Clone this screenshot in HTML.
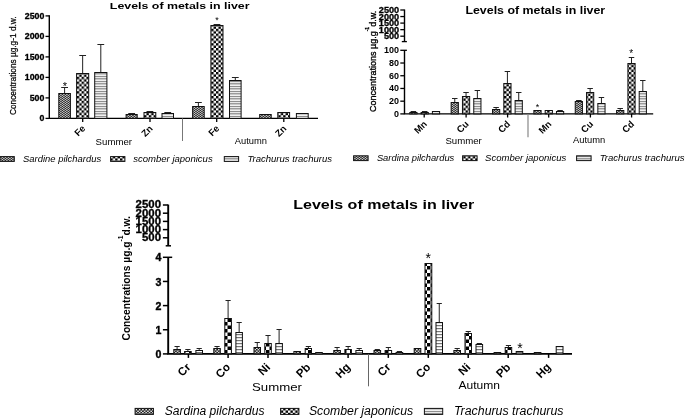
<!DOCTYPE html>
<html><head><meta charset="utf-8"><title>Levels of metals in liver</title>
<style>
html,body{margin:0;padding:0;background:#fff;}
body{width:685px;height:419px;overflow:hidden;font-family:"Liberation Sans",sans-serif;}
svg{display:block;position:absolute;left:0;top:0;will-change:transform;filter:grayscale(1);}
text{font-family:"Liberation Sans",sans-serif;fill:#000;}
</style></head><body>
<svg width="685" height="419" viewBox="0 0 685 419">
<defs>
<pattern id="pA" x="0.25" y="0" width="3" height="2" patternUnits="userSpaceOnUse"><rect width="3" height="2" fill="#151515"/><ellipse cx="0.75" cy="0.5" rx="0.8" ry="0.5" fill="#fff"/><ellipse cx="2.25" cy="1.5" rx="0.8" ry="0.5" fill="#fff"/></pattern>
<pattern id="pA3" x="0.2" y="0.06" width="3.3" height="2.86" patternUnits="userSpaceOnUse"><rect width="3.3" height="2.86" fill="#111"/><ellipse cx="0.825" cy="0.715" rx="0.95" ry="0.62" fill="#fff"/><ellipse cx="2.475" cy="2.145" rx="0.95" ry="0.62" fill="#fff"/></pattern>
<pattern id="pB3" width="5.8" height="5.8" patternUnits="userSpaceOnUse"><rect width="5.8" height="5.8" fill="#fff"/><rect width="2.9" height="2.9" fill="#000"/><rect x="2.9" y="2.9" width="2.9" height="2.9" fill="#000"/></pattern>
<pattern id="pB" width="4.8" height="4.8" patternUnits="userSpaceOnUse"><rect width="4.8" height="4.8" fill="#fff"/><rect width="2.4" height="2.4" fill="#000"/><rect x="2.4" y="2.4" width="2.4" height="2.4" fill="#000"/></pattern>
<pattern id="pC" width="3" height="2.5" patternUnits="userSpaceOnUse"><rect width="3" height="2.5" fill="#fff"/><rect y="0.9" width="3" height="1" fill="#666"/></pattern>
<pattern id="pB2" width="7" height="7" patternUnits="userSpaceOnUse"><rect width="7" height="7" fill="#fff"/><rect width="3.5" height="3.5" fill="#000"/><rect x="3.5" y="3.5" width="3.5" height="3.5" fill="#000"/></pattern>
<pattern id="pC2" width="3" height="3" patternUnits="userSpaceOnUse"><rect width="3" height="3" fill="#fff"/><rect y="1" width="3" height="1.2" fill="#777"/></pattern>
</defs>
<rect width="685" height="419" fill="#fff"/>

<g id="p1">
<text x="179.70" y="8.90" font-size="9.6" font-weight="bold" font-style="normal" text-anchor="middle" textLength="139.70" lengthAdjust="spacingAndGlyphs" >Levels of metals in liver</text>
<text x="16.20" y="65.70" font-size="9.6" font-weight="normal" font-style="normal" text-anchor="middle" textLength="98.60" lengthAdjust="spacingAndGlyphs" transform="rotate(-90 16.20 65.70)" stroke="#000" stroke-width="0.25">Concentrations µg.g-1 d.w.</text>
<path d="M49.3 15.2V118.4H318.0" stroke="#000" stroke-width="1.4" fill="none"/>
<path d="M45.5 118.40H49.3" stroke="#000" stroke-width="1.3"/>
<text x="44.40" y="121.40" font-size="8.5" font-weight="bold" font-style="normal" text-anchor="end" textLength="4.90" lengthAdjust="spacingAndGlyphs" stroke="#000" stroke-width="0.3">0</text>
<path d="M45.5 97.90H49.3" stroke="#000" stroke-width="1.3"/>
<text x="44.40" y="100.90" font-size="8.5" font-weight="bold" font-style="normal" text-anchor="end" textLength="14.70" lengthAdjust="spacingAndGlyphs" stroke="#000" stroke-width="0.3">500</text>
<path d="M45.5 77.40H49.3" stroke="#000" stroke-width="1.3"/>
<text x="44.40" y="80.40" font-size="8.5" font-weight="bold" font-style="normal" text-anchor="end" textLength="19.60" lengthAdjust="spacingAndGlyphs" stroke="#000" stroke-width="0.3">1000</text>
<path d="M45.5 56.90H49.3" stroke="#000" stroke-width="1.3"/>
<text x="44.40" y="59.90" font-size="8.5" font-weight="bold" font-style="normal" text-anchor="end" textLength="19.60" lengthAdjust="spacingAndGlyphs" stroke="#000" stroke-width="0.3">1500</text>
<path d="M45.5 36.40H49.3" stroke="#000" stroke-width="1.3"/>
<text x="44.40" y="39.40" font-size="8.5" font-weight="bold" font-style="normal" text-anchor="end" textLength="19.60" lengthAdjust="spacingAndGlyphs" stroke="#000" stroke-width="0.3">2000</text>
<path d="M45.5 15.90H49.3" stroke="#000" stroke-width="1.3"/>
<text x="44.40" y="18.90" font-size="8.5" font-weight="bold" font-style="normal" text-anchor="end" textLength="19.60" lengthAdjust="spacingAndGlyphs" stroke="#000" stroke-width="0.3">2500</text>
<path d="M64.60 93.50V87.50M61.20 87.50H68.00" stroke="#222" stroke-width="1.0" fill="none"/><rect x="58.80" y="93.50" width="11.60" height="24.90" fill="url(#pA)" stroke="#111" stroke-width="1.0"/>
<path d="M82.65 73.50V55.50M79.25 55.50H86.05" stroke="#222" stroke-width="1.0" fill="none"/><rect x="76.60" y="73.50" width="12.10" height="44.90" fill="url(#pB)" stroke="#111" stroke-width="1.0"/>
<path d="M100.80 72.50V44.50M97.40 44.50H104.20" stroke="#222" stroke-width="1.0" fill="none"/><rect x="94.70" y="72.50" width="12.20" height="45.90" fill="url(#pC)" stroke="#111" stroke-width="1.0"/>
<path d="M131.65 114.50V113.50M128.25 113.50H135.05" stroke="#222" stroke-width="1.0" fill="none"/><rect x="126.10" y="114.50" width="11.10" height="3.90" fill="url(#pA)" stroke="#111" stroke-width="1.0"/>
<path d="M149.90 112.50V111.50M146.50 111.50H153.30" stroke="#222" stroke-width="1.0" fill="none"/><rect x="144.00" y="112.50" width="11.80" height="5.90" fill="url(#pB)" stroke="#111" stroke-width="1.0"/>
<path d="M167.75 113.50V112.50M164.35 112.50H171.15" stroke="#222" stroke-width="1.0" fill="none"/><rect x="162.00" y="113.50" width="11.50" height="4.90" fill="url(#pC)" stroke="#111" stroke-width="1.0"/>
<path d="M198.40 106.50V102.50M195.00 102.50H201.80" stroke="#222" stroke-width="1.0" fill="none"/><rect x="192.60" y="106.50" width="11.60" height="11.90" fill="url(#pA)" stroke="#111" stroke-width="1.0"/>
<path d="M216.95 25.50V24.50M213.55 24.50H220.35" stroke="#222" stroke-width="1.0" fill="none"/><rect x="210.90" y="25.50" width="12.10" height="92.90" fill="url(#pB)" stroke="#111" stroke-width="1.0"/>
<path d="M235.30 80.50V77.50M231.90 77.50H238.70" stroke="#222" stroke-width="1.0" fill="none"/><rect x="229.50" y="80.50" width="11.60" height="37.90" fill="url(#pC)" stroke="#111" stroke-width="1.0"/>
<rect x="259.70" y="114.50" width="11.50" height="3.90" fill="url(#pA)" stroke="#111" stroke-width="1.0"/>
<rect x="277.80" y="112.50" width="11.80" height="5.90" fill="url(#pB)" stroke="#111" stroke-width="1.0"/>
<rect x="296.40" y="113.50" width="11.80" height="4.90" fill="url(#pC)" stroke="#111" stroke-width="1.0"/>
<path d="M82.7 118.4V122.0" stroke="#000" stroke-width="1.3"/>
<text x="86.00" y="129.10" font-size="9.4" font-weight="bold" font-style="normal" text-anchor="end" transform="rotate(-45 86.00 129.10)" >Fe</text>
<path d="M150 118.4V122.0" stroke="#000" stroke-width="1.3"/>
<text x="153.30" y="129.10" font-size="9.4" font-weight="bold" font-style="normal" text-anchor="end" transform="rotate(-45 153.30 129.10)" >Zn</text>
<path d="M216.7 118.4V122.0" stroke="#000" stroke-width="1.3"/>
<text x="220.00" y="129.10" font-size="9.4" font-weight="bold" font-style="normal" text-anchor="end" transform="rotate(-45 220.00 129.10)" >Fe</text>
<path d="M283.8 118.4V122.0" stroke="#000" stroke-width="1.3"/>
<text x="287.10" y="129.10" font-size="9.4" font-weight="bold" font-style="normal" text-anchor="end" transform="rotate(-45 287.10 129.10)" >Zn</text>
<path d="M182.5 118.4V141" stroke="#777" stroke-width="1"/>
<text x="113.80" y="145.00" font-size="9.4" font-weight="normal" font-style="normal" text-anchor="middle" textLength="36.40" lengthAdjust="spacingAndGlyphs" >Summer</text>
<text x="250.90" y="143.80" font-size="9.4" font-weight="normal" font-style="normal" text-anchor="middle" textLength="32.20" lengthAdjust="spacingAndGlyphs" >Autumn</text>
<text x="64.80" y="89.90" font-size="11" font-weight="normal" font-style="normal" text-anchor="middle" >*</text>
<text x="217.00" y="23.00" font-size="9" font-weight="normal" font-style="normal" text-anchor="middle" >*</text>
<rect x="0" y="156.6" width="14.3" height="4.8" fill="url(#pA)" stroke="#111" stroke-width="1"/>
<rect x="110.6" y="156.6" width="14.3" height="4.8" fill="url(#pB)" stroke="#111" stroke-width="1"/>
<rect x="224.3" y="156.6" width="14.3" height="4.8" fill="url(#pC)" stroke="#111" stroke-width="1"/>
<text x="23.10" y="161.70" font-size="9.5" font-weight="normal" font-style="italic" text-anchor="start" textLength="78.00" lengthAdjust="spacingAndGlyphs" >Sardine pilchardus</text>
<text x="133.20" y="161.70" font-size="9.5" font-weight="normal" font-style="italic" text-anchor="start" textLength="79.50" lengthAdjust="spacingAndGlyphs" >scomber japonicus</text>
<text x="247.40" y="161.70" font-size="9.5" font-weight="normal" font-style="italic" text-anchor="start" textLength="84.60" lengthAdjust="spacingAndGlyphs" >Trachurus trachurus</text>
</g>
<g id="p2">
<text x="535.30" y="13.60" font-size="10.3" font-weight="bold" font-style="normal" text-anchor="middle" textLength="139.80" lengthAdjust="spacingAndGlyphs" >Levels of metals in liver</text>
<text x="376.3" y="61.4" font-size="9.6" text-anchor="middle" transform="rotate(-90 376.3 61.4)" textLength="101.3" lengthAdjust="spacingAndGlyphs" stroke="#000" stroke-width="0.35">Concentrations µg.g<tspan dy="-7" font-size="5.5">-1</tspan><tspan dy="7">d.w.</tspan></text>
<path d="M404.5 9.5V42" stroke="#000" stroke-width="1.4" fill="none"/>
<path d="M401.8 41.6H406.9" stroke="#000" stroke-width="1.3" fill="none"/>
<path d="M400.3 10.00H404.5" stroke="#000" stroke-width="1.3"/>
<text x="399.20" y="13.00" font-size="8.5" font-weight="bold" font-style="normal" text-anchor="end" textLength="20.40" lengthAdjust="spacingAndGlyphs" stroke="#000" stroke-width="0.3">2500</text>
<path d="M400.3 16.55H404.5" stroke="#000" stroke-width="1.3"/>
<text x="399.20" y="19.55" font-size="8.5" font-weight="bold" font-style="normal" text-anchor="end" textLength="20.40" lengthAdjust="spacingAndGlyphs" stroke="#000" stroke-width="0.3">2000</text>
<path d="M400.3 23.10H404.5" stroke="#000" stroke-width="1.3"/>
<text x="399.20" y="26.10" font-size="8.5" font-weight="bold" font-style="normal" text-anchor="end" textLength="20.40" lengthAdjust="spacingAndGlyphs" stroke="#000" stroke-width="0.3">1500</text>
<path d="M400.3 29.65H404.5" stroke="#000" stroke-width="1.3"/>
<text x="399.20" y="32.65" font-size="8.5" font-weight="bold" font-style="normal" text-anchor="end" textLength="20.40" lengthAdjust="spacingAndGlyphs" stroke="#000" stroke-width="0.3">1000</text>
<path d="M400.3 36.20H404.5" stroke="#000" stroke-width="1.3"/>
<text x="399.20" y="39.20" font-size="8.5" font-weight="bold" font-style="normal" text-anchor="end" textLength="15.30" lengthAdjust="spacingAndGlyphs" stroke="#000" stroke-width="0.3">500</text>
<path d="M404.5 50.3V113.9H653.2" stroke="#000" stroke-width="1.4" fill="none"/>
<path d="M400.3 113.90H404.5" stroke="#000" stroke-width="1.3"/>
<text x="399.10" y="116.90" font-size="8.5" font-weight="bold" font-style="normal" text-anchor="end" textLength="5.00" lengthAdjust="spacingAndGlyphs" >0</text>
<path d="M400.3 101.18H404.5" stroke="#000" stroke-width="1.3"/>
<text x="399.10" y="104.18" font-size="8.5" font-weight="bold" font-style="normal" text-anchor="end" textLength="10.00" lengthAdjust="spacingAndGlyphs" >20</text>
<path d="M400.3 88.46H404.5" stroke="#000" stroke-width="1.3"/>
<text x="399.10" y="91.46" font-size="8.5" font-weight="bold" font-style="normal" text-anchor="end" textLength="10.00" lengthAdjust="spacingAndGlyphs" >40</text>
<path d="M400.3 75.74H404.5" stroke="#000" stroke-width="1.3"/>
<text x="399.10" y="78.74" font-size="8.5" font-weight="bold" font-style="normal" text-anchor="end" textLength="10.00" lengthAdjust="spacingAndGlyphs" >60</text>
<path d="M400.3 63.02H404.5" stroke="#000" stroke-width="1.3"/>
<text x="399.10" y="66.02" font-size="8.5" font-weight="bold" font-style="normal" text-anchor="end" textLength="10.00" lengthAdjust="spacingAndGlyphs" >80</text>
<path d="M400.3 50.30H406.9" stroke="#000" stroke-width="1.3"/>
<text x="399.10" y="53.30" font-size="8.5" font-weight="bold" font-style="normal" text-anchor="end" textLength="15.00" lengthAdjust="spacingAndGlyphs" >100</text>
<path d="M413.40 112.50V111.50M410.65 111.50H416.15" stroke="#222" stroke-width="1.0" fill="none"/><rect x="409.80" y="112.50" width="7.20" height="1.40" fill="url(#pA)" stroke="#111" stroke-width="1.0"/>
<path d="M424.70 112.50V111.50M421.95 111.50H427.45" stroke="#222" stroke-width="1.0" fill="none"/><rect x="421.10" y="112.50" width="7.20" height="1.40" fill="url(#pB)" stroke="#111" stroke-width="1.0"/>
<rect x="432.40" y="111.50" width="7.20" height="2.40" fill="url(#pC)" stroke="#111" stroke-width="1.0"/>
<path d="M454.76 102.50V98.50M452.01 98.50H457.51" stroke="#222" stroke-width="1.0" fill="none"/><rect x="451.16" y="102.50" width="7.20" height="11.40" fill="url(#pA)" stroke="#111" stroke-width="1.0"/>
<path d="M466.06 96.50V92.50M463.31 92.50H468.81" stroke="#222" stroke-width="1.0" fill="none"/><rect x="462.46" y="96.50" width="7.20" height="17.40" fill="url(#pB)" stroke="#111" stroke-width="1.0"/>
<path d="M477.36 98.50V90.50M474.61 90.50H480.11" stroke="#222" stroke-width="1.0" fill="none"/><rect x="473.76" y="98.50" width="7.20" height="15.40" fill="url(#pC)" stroke="#111" stroke-width="1.0"/>
<path d="M496.12 109.50V107.50M493.37 107.50H498.87" stroke="#222" stroke-width="1.0" fill="none"/><rect x="492.52" y="109.50" width="7.20" height="4.40" fill="url(#pA)" stroke="#111" stroke-width="1.0"/>
<path d="M507.42 83.50V71.50M504.67 71.50H510.17" stroke="#222" stroke-width="1.0" fill="none"/><rect x="503.82" y="83.50" width="7.20" height="30.40" fill="url(#pB)" stroke="#111" stroke-width="1.0"/>
<path d="M518.72 100.50V92.50M515.97 92.50H521.47" stroke="#222" stroke-width="1.0" fill="none"/><rect x="515.12" y="100.50" width="7.20" height="13.40" fill="url(#pC)" stroke="#111" stroke-width="1.0"/>
<rect x="533.88" y="110.50" width="7.20" height="3.40" fill="url(#pA)" stroke="#111" stroke-width="1.0"/>
<rect x="545.18" y="110.50" width="7.20" height="3.40" fill="url(#pB)" stroke="#111" stroke-width="1.0"/>
<path d="M560.08 111.50V110.50M557.33 110.50H562.83" stroke="#222" stroke-width="1.0" fill="none"/><rect x="556.48" y="111.50" width="7.20" height="2.40" fill="url(#pC)" stroke="#111" stroke-width="1.0"/>
<path d="M578.84 101.50V100.50M576.09 100.50H581.59" stroke="#222" stroke-width="1.0" fill="none"/><rect x="575.24" y="101.50" width="7.20" height="12.40" fill="url(#pA)" stroke="#111" stroke-width="1.0"/>
<path d="M590.14 92.50V88.50M587.39 88.50H592.89" stroke="#222" stroke-width="1.0" fill="none"/><rect x="586.54" y="92.50" width="7.20" height="21.40" fill="url(#pB)" stroke="#111" stroke-width="1.0"/>
<path d="M601.44 103.50V97.50M598.69 97.50H604.19" stroke="#222" stroke-width="1.0" fill="none"/><rect x="597.84" y="103.50" width="7.20" height="10.40" fill="url(#pC)" stroke="#111" stroke-width="1.0"/>
<path d="M620.20 110.50V108.50M617.45 108.50H622.95" stroke="#222" stroke-width="1.0" fill="none"/><rect x="616.60" y="110.50" width="7.20" height="3.40" fill="url(#pA)" stroke="#111" stroke-width="1.0"/>
<path d="M631.50 63.50V57.50M628.75 57.50H634.25" stroke="#222" stroke-width="1.0" fill="none"/><rect x="627.90" y="63.50" width="7.20" height="50.40" fill="url(#pB)" stroke="#111" stroke-width="1.0"/>
<path d="M642.80 91.50V80.50M640.05 80.50H645.55" stroke="#222" stroke-width="1.0" fill="none"/><rect x="639.20" y="91.50" width="7.20" height="22.40" fill="url(#pC)" stroke="#111" stroke-width="1.0"/>
<path d="M424.2 113.9V117.5" stroke="#000" stroke-width="1.3"/>
<text x="427.50" y="124.60" font-size="9.4" font-weight="bold" font-style="normal" text-anchor="end" transform="rotate(-45 427.50 124.60)" >Mn</text>
<path d="M466.1 113.9V117.5" stroke="#000" stroke-width="1.3"/>
<text x="469.40" y="124.60" font-size="9.4" font-weight="bold" font-style="normal" text-anchor="end" transform="rotate(-45 469.40 124.60)" >Cu</text>
<path d="M507.6 113.9V117.5" stroke="#000" stroke-width="1.3"/>
<text x="510.90" y="124.60" font-size="9.4" font-weight="bold" font-style="normal" text-anchor="end" transform="rotate(-45 510.90 124.60)" >Cd</text>
<path d="M548.7 113.9V117.5" stroke="#000" stroke-width="1.3"/>
<text x="552.00" y="124.60" font-size="9.4" font-weight="bold" font-style="normal" text-anchor="end" transform="rotate(-45 552.00 124.60)" >Mn</text>
<path d="M590.4 113.9V117.5" stroke="#000" stroke-width="1.3"/>
<text x="593.70" y="124.60" font-size="9.4" font-weight="bold" font-style="normal" text-anchor="end" transform="rotate(-45 593.70 124.60)" >Cu</text>
<path d="M631.6 113.9V117.5" stroke="#000" stroke-width="1.3"/>
<text x="634.90" y="124.60" font-size="9.4" font-weight="bold" font-style="normal" text-anchor="end" transform="rotate(-45 634.90 124.60)" >Cd</text>
<path d="M528 113.9V137.3" stroke="#888" stroke-width="1.2"/>
<text x="463.60" y="144.30" font-size="9.4" font-weight="normal" font-style="normal" text-anchor="middle" textLength="36.40" lengthAdjust="spacingAndGlyphs" >Summer</text>
<text x="589.10" y="143.20" font-size="9.4" font-weight="normal" font-style="normal" text-anchor="middle" textLength="32.20" lengthAdjust="spacingAndGlyphs" >Autumn</text>
<text x="537.40" y="110.20" font-size="9" font-weight="normal" font-style="normal" text-anchor="middle" >*</text>
<text x="631.10" y="56.50" font-size="10" font-weight="normal" font-style="normal" text-anchor="middle" >*</text>
<rect x="353.6" y="155.8" width="14.5" height="4.8" fill="url(#pA)" stroke="#111" stroke-width="1"/>
<rect x="462.6" y="155.8" width="14.5" height="4.8" fill="url(#pB)" stroke="#111" stroke-width="1"/>
<rect x="576.6" y="155.8" width="14.5" height="4.8" fill="url(#pC)" stroke="#111" stroke-width="1"/>
<text x="376.90" y="161.00" font-size="9.5" font-weight="normal" font-style="italic" text-anchor="start" textLength="77.40" lengthAdjust="spacingAndGlyphs" >Sardina pilchardus</text>
<text x="485.00" y="161.00" font-size="9.5" font-weight="normal" font-style="italic" text-anchor="start" textLength="81.30" lengthAdjust="spacingAndGlyphs" >Scomber japonicus</text>
<text x="599.70" y="161.00" font-size="9.5" font-weight="normal" font-style="italic" text-anchor="start" textLength="84.90" lengthAdjust="spacingAndGlyphs" >Trachurus trachurus</text>
</g>
<g id="p3">
<text x="383.70" y="208.80" font-size="13" font-weight="bold" font-style="normal" text-anchor="middle" textLength="181.00" lengthAdjust="spacingAndGlyphs" >Levels of metals in liver</text>
<text x="129.6" y="278.3" font-size="10.2" font-weight="bold" text-anchor="middle" transform="rotate(-90 129.6 278.3)" textLength="124.4" lengthAdjust="spacingAndGlyphs">Concentrations µg.g<tspan dy="-7" font-size="6.5">-1</tspan><tspan dy="7">d.w.</tspan></text>
<path d="M168.2 204.6V245.8" stroke="#000" stroke-width="1.9" fill="none"/>
<path d="M165.7 245.8H171.0" stroke="#000" stroke-width="1.5" fill="none"/>
<path d="M162.89999999999998 205.00H168.2" stroke="#000" stroke-width="1.5"/>
<text x="161.00" y="208.30" font-size="10.4" font-weight="bold" font-style="normal" text-anchor="end" textLength="25.40" lengthAdjust="spacingAndGlyphs" stroke="#000" stroke-width="0.3">2500</text>
<path d="M162.89999999999998 213.20H168.2" stroke="#000" stroke-width="1.5"/>
<text x="161.00" y="216.50" font-size="10.4" font-weight="bold" font-style="normal" text-anchor="end" textLength="25.40" lengthAdjust="spacingAndGlyphs" stroke="#000" stroke-width="0.3">2000</text>
<path d="M162.89999999999998 221.40H168.2" stroke="#000" stroke-width="1.5"/>
<text x="161.00" y="224.70" font-size="10.4" font-weight="bold" font-style="normal" text-anchor="end" textLength="25.40" lengthAdjust="spacingAndGlyphs" stroke="#000" stroke-width="0.3">1500</text>
<path d="M162.89999999999998 229.60H168.2" stroke="#000" stroke-width="1.5"/>
<text x="161.00" y="232.90" font-size="10.4" font-weight="bold" font-style="normal" text-anchor="end" textLength="25.40" lengthAdjust="spacingAndGlyphs" stroke="#000" stroke-width="0.3">1000</text>
<path d="M162.89999999999998 237.80H168.2" stroke="#000" stroke-width="1.5"/>
<text x="161.00" y="241.10" font-size="10.4" font-weight="bold" font-style="normal" text-anchor="end" textLength="19.05" lengthAdjust="spacingAndGlyphs" stroke="#000" stroke-width="0.3">500</text>
<path d="M168.2 257.1V353.9H572" stroke="#000" stroke-width="1.9" fill="none"/>
<path d="M162.89999999999998 353.90H168.2" stroke="#000" stroke-width="1.5"/>
<text x="161.30" y="358.00" font-size="10.6" font-weight="bold" font-style="normal" text-anchor="end" stroke="#000" stroke-width="0.4">0</text>
<path d="M162.89999999999998 329.75H168.2" stroke="#000" stroke-width="1.5"/>
<text x="161.30" y="333.85" font-size="10.6" font-weight="bold" font-style="normal" text-anchor="end" stroke="#000" stroke-width="0.4">1</text>
<path d="M162.89999999999998 305.60H168.2" stroke="#000" stroke-width="1.5"/>
<text x="161.30" y="309.70" font-size="10.6" font-weight="bold" font-style="normal" text-anchor="end" stroke="#000" stroke-width="0.4">2</text>
<path d="M162.89999999999998 281.45H168.2" stroke="#000" stroke-width="1.5"/>
<text x="161.30" y="285.55" font-size="10.6" font-weight="bold" font-style="normal" text-anchor="end" stroke="#000" stroke-width="0.4">3</text>
<path d="M162.89999999999998 257.30H172.2" stroke="#000" stroke-width="1.5"/>
<text x="161.30" y="261.40" font-size="10.6" font-weight="bold" font-style="normal" text-anchor="end" stroke="#000" stroke-width="0.4">4</text>
<path d="M177.10 349.50V346.50M174.50 346.50H179.70" stroke="#222" stroke-width="1.0" fill="none"/><rect x="173.80" y="349.50" width="6.60" height="4.40" fill="url(#pA3)" stroke="#111" stroke-width="1.0"/>
<path d="M187.90 351.50V349.50M185.30 349.50H190.50" stroke="#222" stroke-width="1.0" fill="none"/><rect x="184.60" y="351.50" width="6.60" height="2.40" fill="url(#pB2)" stroke="#111" stroke-width="1.0"/>
<path d="M199.20 350.50V348.50M196.60 348.50H201.80" stroke="#222" stroke-width="1.0" fill="none"/><rect x="195.90" y="350.50" width="6.60" height="3.40" fill="url(#pC2)" stroke="#111" stroke-width="1.0"/>
<path d="M217.05 348.50V346.50M214.45 346.50H219.65" stroke="#222" stroke-width="1.0" fill="none"/><rect x="213.80" y="348.50" width="6.50" height="5.40" fill="url(#pA3)" stroke="#111" stroke-width="1.0"/>
<path d="M228.10 318.50V300.50M225.50 300.50H230.70" stroke="#222" stroke-width="1.0" fill="none"/><rect x="224.80" y="318.50" width="6.60" height="35.40" fill="url(#pB2)" stroke="#111" stroke-width="1.0"/>
<path d="M239.15 332.50V322.50M236.55 322.50H241.75" stroke="#222" stroke-width="1.0" fill="none"/><rect x="235.90" y="332.50" width="6.50" height="21.40" fill="url(#pC2)" stroke="#111" stroke-width="1.0"/>
<path d="M257.25 347.50V342.50M254.65 342.50H259.85" stroke="#222" stroke-width="1.0" fill="none"/><rect x="254.00" y="347.50" width="6.50" height="6.40" fill="url(#pA3)" stroke="#111" stroke-width="1.0"/>
<path d="M268.05 343.50V335.50M265.45 335.50H270.65" stroke="#222" stroke-width="1.0" fill="none"/><rect x="264.80" y="343.50" width="6.50" height="10.40" fill="url(#pB2)" stroke="#111" stroke-width="1.0"/>
<path d="M279.10 343.50V329.50M276.50 329.50H281.70" stroke="#222" stroke-width="1.0" fill="none"/><rect x="275.80" y="343.50" width="6.60" height="10.40" fill="url(#pC2)" stroke="#111" stroke-width="1.0"/>
<rect x="293.90" y="351.50" width="6.50" height="2.40" fill="url(#pA3)" stroke="#111" stroke-width="1.0"/>
<path d="M308.35 348.50V346.50M305.75 346.50H310.95" stroke="#222" stroke-width="1.0" fill="none"/><rect x="305.20" y="348.50" width="6.30" height="5.40" fill="url(#pB2)" stroke="#111" stroke-width="1.0"/>
<rect x="315.70" y="352.50" width="6.60" height="1.40" fill="url(#pC2)" stroke="#111" stroke-width="1.0"/>
<path d="M337.10 350.50V347.50M334.50 347.50H339.70" stroke="#222" stroke-width="1.0" fill="none"/><rect x="333.80" y="350.50" width="6.60" height="3.40" fill="url(#pA3)" stroke="#111" stroke-width="1.0"/>
<path d="M348.15 349.50V346.50M345.55 346.50H350.75" stroke="#222" stroke-width="1.0" fill="none"/><rect x="344.90" y="349.50" width="6.50" height="4.40" fill="url(#pB2)" stroke="#111" stroke-width="1.0"/>
<path d="M359.20 350.50V348.50M356.60 348.50H361.80" stroke="#222" stroke-width="1.0" fill="none"/><rect x="355.90" y="350.50" width="6.60" height="3.40" fill="url(#pC2)" stroke="#111" stroke-width="1.0"/>
<path d="M377.30 350.50V349.50M374.70 349.50H379.90" stroke="#222" stroke-width="1.0" fill="none"/><rect x="374.00" y="350.50" width="6.60" height="3.40" fill="url(#pA3)" stroke="#111" stroke-width="1.0"/>
<path d="M388.35 350.50V347.50M385.75 347.50H390.95" stroke="#222" stroke-width="1.0" fill="none"/><rect x="385.10" y="350.50" width="6.50" height="3.40" fill="url(#pB2)" stroke="#111" stroke-width="1.0"/>
<path d="M399.40 352.50V351.50M396.80 351.50H402.00" stroke="#222" stroke-width="1.0" fill="none"/><rect x="396.10" y="352.50" width="6.60" height="1.40" fill="url(#pC2)" stroke="#111" stroke-width="1.0"/>
<rect x="414.20" y="348.50" width="6.60" height="5.40" fill="url(#pA3)" stroke="#111" stroke-width="1.0"/>
<rect x="425.00" y="263.50" width="6.80" height="90.40" fill="url(#pB2)" stroke="#111" stroke-width="1.0"/>
<path d="M439.25 322.50V303.50M436.65 303.50H441.85" stroke="#222" stroke-width="1.0" fill="none"/><rect x="436.00" y="322.50" width="6.50" height="31.40" fill="url(#pC2)" stroke="#111" stroke-width="1.0"/>
<path d="M457.20 350.50V348.50M454.60 348.50H459.80" stroke="#222" stroke-width="1.0" fill="none"/><rect x="453.90" y="350.50" width="6.60" height="3.40" fill="url(#pA3)" stroke="#111" stroke-width="1.0"/>
<path d="M468.25 333.50V331.50M465.65 331.50H470.85" stroke="#222" stroke-width="1.0" fill="none"/><rect x="465.00" y="333.50" width="6.50" height="20.40" fill="url(#pB2)" stroke="#111" stroke-width="1.0"/>
<path d="M479.30 344.50V343.50M476.70 343.50H481.90" stroke="#222" stroke-width="1.0" fill="none"/><rect x="476.00" y="344.50" width="6.60" height="9.40" fill="url(#pC2)" stroke="#111" stroke-width="1.0"/>
<rect x="494.10" y="352.50" width="6.60" height="1.40" fill="url(#pA3)" stroke="#111" stroke-width="1.0"/>
<path d="M508.45 347.50V345.50M505.85 345.50H511.05" stroke="#222" stroke-width="1.0" fill="none"/><rect x="505.20" y="347.50" width="6.50" height="6.40" fill="url(#pB2)" stroke="#111" stroke-width="1.0"/>
<rect x="516.20" y="351.50" width="6.60" height="2.40" fill="url(#pC2)" stroke="#111" stroke-width="1.0"/>
<rect x="534.30" y="352.50" width="6.60" height="1.40" fill="url(#pA3)" stroke="#111" stroke-width="1.0"/>
<rect x="556.20" y="346.50" width="6.80" height="7.40" fill="url(#pC2)" stroke="#111" stroke-width="1.0"/>
<path d="M188.4 353.9V357.9" stroke="#000" stroke-width="1.5"/>
<text x="191.40" y="367.90" font-size="11.5" font-weight="bold" font-style="normal" text-anchor="end" transform="rotate(-45 191.40 367.90)" >Cr</text>
<path d="M228.1 353.9V357.9" stroke="#000" stroke-width="1.5"/>
<text x="231.10" y="367.90" font-size="11.5" font-weight="bold" font-style="normal" text-anchor="end" transform="rotate(-45 231.10 367.90)" >Co</text>
<path d="M268 353.9V357.9" stroke="#000" stroke-width="1.5"/>
<text x="271.00" y="367.90" font-size="11.5" font-weight="bold" font-style="normal" text-anchor="end" transform="rotate(-45 271.00 367.90)" >Ni</text>
<path d="M308.2 353.9V357.9" stroke="#000" stroke-width="1.5"/>
<text x="311.20" y="367.90" font-size="11.5" font-weight="bold" font-style="normal" text-anchor="end" transform="rotate(-45 311.20 367.90)" >Pb</text>
<path d="M348.1 353.9V357.9" stroke="#000" stroke-width="1.5"/>
<text x="351.10" y="367.90" font-size="11.5" font-weight="bold" font-style="normal" text-anchor="end" transform="rotate(-45 351.10 367.90)" >Hg</text>
<path d="M388.3 353.9V357.9" stroke="#000" stroke-width="1.5"/>
<text x="391.30" y="367.90" font-size="11.5" font-weight="bold" font-style="normal" text-anchor="end" transform="rotate(-45 391.30 367.90)" >Cr</text>
<path d="M428.3 353.9V357.9" stroke="#000" stroke-width="1.5"/>
<text x="431.30" y="367.90" font-size="11.5" font-weight="bold" font-style="normal" text-anchor="end" transform="rotate(-45 431.30 367.90)" >Co</text>
<path d="M468.2 353.9V357.9" stroke="#000" stroke-width="1.5"/>
<text x="471.20" y="367.90" font-size="11.5" font-weight="bold" font-style="normal" text-anchor="end" transform="rotate(-45 471.20 367.90)" >Ni</text>
<path d="M508.2 353.9V357.9" stroke="#000" stroke-width="1.5"/>
<text x="511.20" y="367.90" font-size="11.5" font-weight="bold" font-style="normal" text-anchor="end" transform="rotate(-45 511.20 367.90)" >Pb</text>
<path d="M548.6 353.9V357.9" stroke="#000" stroke-width="1.5"/>
<text x="551.60" y="367.90" font-size="11.5" font-weight="bold" font-style="normal" text-anchor="end" transform="rotate(-45 551.60 367.90)" >Hg</text>
<path d="M368.5 353.9V386.3" stroke="#666" stroke-width="1"/>
<text x="277.00" y="391.30" font-size="11.5" font-weight="normal" font-style="normal" text-anchor="middle" textLength="50.00" lengthAdjust="spacingAndGlyphs" >Summer</text>
<text x="479.20" y="389.40" font-size="11.5" font-weight="normal" font-style="normal" text-anchor="middle" textLength="41.50" lengthAdjust="spacingAndGlyphs" >Autumn</text>
<text x="428.30" y="263.00" font-size="14" font-weight="normal" font-style="normal" text-anchor="middle" >*</text>
<text x="520.00" y="352.60" font-size="14" font-weight="normal" font-style="normal" text-anchor="middle" >*</text>
<rect x="135.1" y="408.40000000000003" width="18.3" height="6" fill="url(#pA3)" stroke="#111" stroke-width="1"/>
<rect x="280.6" y="408.40000000000003" width="18.3" height="6" fill="url(#pB)" stroke="#111" stroke-width="1"/>
<rect x="424.4" y="408.40000000000003" width="18.3" height="6" fill="url(#pC)" stroke="#111" stroke-width="1"/>
<text x="164.80" y="414.90" font-size="12" font-weight="normal" font-style="italic" text-anchor="start" textLength="99.70" lengthAdjust="spacingAndGlyphs" >Sardina pilchardus</text>
<text x="308.90" y="414.90" font-size="12" font-weight="normal" font-style="italic" text-anchor="start" textLength="104.30" lengthAdjust="spacingAndGlyphs" >Scomber japonicus</text>
<text x="454.00" y="414.90" font-size="12" font-weight="normal" font-style="italic" text-anchor="start" textLength="109.50" lengthAdjust="spacingAndGlyphs" >Trachurus trachurus</text>
</g>
</svg></body></html>
